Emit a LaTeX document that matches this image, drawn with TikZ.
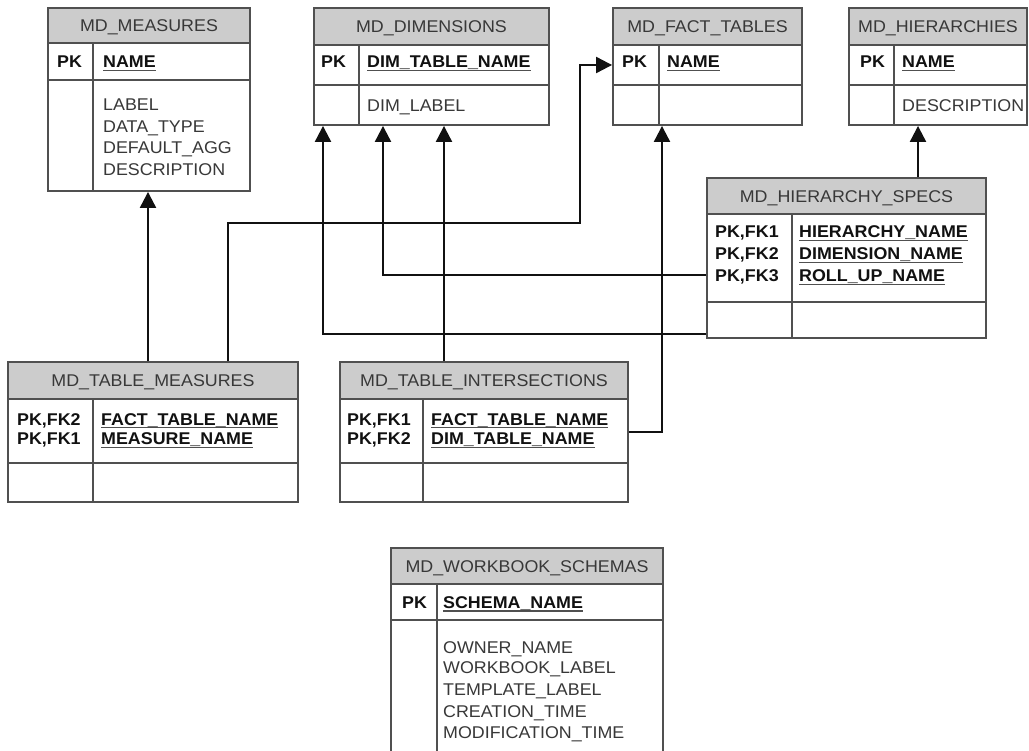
\documentclass[tikz,border=0pt]{standalone}
\usepackage{fontspec}
\setmainfont{Liberation Sans}[FakeStretch=1.05]
\usetikzlibrary{arrows.meta,fit}
\definecolor{hdrgray}{HTML}{CCCCCC}
\definecolor{lngray}{HTML}{505050}
\definecolor{txgray}{HTML}{383838}
\definecolor{tbblack}{HTML}{111111}
\newsavebox\ulbox
\newcommand\ulname[1]{\sbox\ulbox{#1}\rlap{\textcolor{lngray}{\rule[-3.5pt]{\wd\ulbox}{1.8pt}}}\usebox\ulbox}
\newcommand\erfont{\fontsize{17}{20}\selectfont}
\tikzset{
  tblbox/.style={draw=lngray, line width=1.9pt, inner sep=0pt},
  tblline/.style={draw=lngray, line width=1.9pt},
  hdrtxt/.style={anchor=base, inner sep=0pt, text=txgray, font=\erfont},
  keytxt/.style={anchor=base west, inner sep=0pt, text=tbblack, font=\erfont\bfseries},
  attrtxt/.style={anchor=base west, inner sep=0pt, text=txgray, font=\erfont},
  fk/.style={draw=tbblack, line width=2.2pt, -{Triangle[width=16pt,length=16pt]}}
}
% #1 name, #2 L, #3 T, #4 R, #5 header bottom, #6 key row bottom, #7 bottom, #8 divider, #9 title
\newcommand\ertab[9]{%
  \fill[hdrgray] (#2,#3) rectangle (#4,#5);
  \node[tblbox, fit={(#2,#3) (#4,#7)}] (#1) {};
  \draw[tblline] (#2,#5) -- (#4,#5) (#2,#6) -- (#4,#6) (#8,#5) -- (#8,#7);
  \node[hdrtxt] (#1-title) at ({(#2+#4)/2},{(#3+#5)/2+6.5}) {#9};
}
\begin{document}
\begin{tikzpicture}[x=1pt,y=-1pt]
\clip (0,0) rectangle (1029,751);
\fill[white] (0,0) rectangle (1029,751);

% MD_MEASURES
\ertab{mm}{48}{8}{250}{43}{80}{191}{93}{MD\_MEASURES}
\node[keytxt] (mm-pk) at (57,68) {PK};
\node[keytxt] (mm-k1) at (103,68) {\ulname{NAME}};
\node[attrtxt] (mm-a1) at (103,111) {LABEL};
\node[attrtxt] (mm-a2) at (103,133) {DATA\_TYPE};
\node[attrtxt] (mm-a3) at (103,154) {DEFAULT\_AGG};
\node[attrtxt] (mm-a4) at (103,176) {DESCRIPTION};

% MD_DIMENSIONS
\ertab{dm}{314}{8}{549}{45}{85}{125}{359}{MD\_DIMENSIONS}
\node[keytxt] (dm-pk) at (321,68) {PK};
\node[keytxt] (dm-k1) at (367,68) {\ulname{DIM\_TABLE\_NAME}};
\node[attrtxt] (dm-a1) at (367,112) {DIM\_LABEL};

% MD_FACT_TABLES
\ertab{ft}{613}{8}{802}{45}{85}{125}{659}{MD\_FACT\_TABLES}
\node[keytxt] (ft-pk) at (622,68) {PK};
\node[keytxt] (ft-k1) at (667,68) {\ulname{NAME}};

% MD_HIERARCHIES
\ertab{hi}{849}{8}{1027}{45}{85}{125}{894}{MD\_HIERARCHIES}
\node[keytxt] (hi-pk) at (860,68) {PK};
\node[keytxt] (hi-k1) at (902,68) {\ulname{NAME}};
\node[attrtxt] (hi-a1) at (902,112) {DESCRIPTION};

% MD_HIERARCHY_SPECS
\ertab{hs}{707}{178}{986}{214}{302}{338}{792}{MD\_HIERARCHY\_SPECS}
\node[keytxt] (hs-p1) at (715,238) {PK,FK1};
\node[keytxt] (hs-p2) at (715,260) {PK,FK2};
\node[keytxt] (hs-p3) at (715,282) {PK,FK3};
\node[keytxt] (hs-k1) at (799,238) {\ulname{HIERARCHY\_NAME}};
\node[keytxt] (hs-k2) at (799,260) {\ulname{DIMENSION\_NAME}};
\node[keytxt] (hs-k3) at (799,282) {\ulname{ROLL\_UP\_NAME}};

% MD_TABLE_MEASURES
\ertab{tm}{8}{362}{298}{399}{463}{502}{93}{MD\_TABLE\_MEASURES}
\node[keytxt] (tm-p1) at (17,425) {PK,FK2};
\node[keytxt] (tm-p2) at (17,445) {PK,FK1};
\node[keytxt] (tm-k1) at (101,425) {\ulname{FACT\_TABLE\_NAME}};
\node[keytxt] (tm-k2) at (101,445) {\ulname{MEASURE\_NAME}};

% MD_TABLE_INTERSECTIONS
\ertab{ti}{340}{362}{628}{399}{463}{502}{423}{MD\_TABLE\_INTERSECTIONS}
\node[keytxt] (ti-p1) at (347,425) {PK,FK1};
\node[keytxt] (ti-p2) at (347,445) {PK,FK2};
\node[keytxt] (ti-k1) at (431,425) {\ulname{FACT\_TABLE\_NAME}};
\node[keytxt] (ti-k2) at (431,445) {\ulname{DIM\_TABLE\_NAME}};

% MD_WORKBOOK_SCHEMAS
\ertab{wb}{391}{548}{663}{584}{620}{762}{437}{MD\_WORKBOOK\_SCHEMAS}
\node[keytxt] (wb-pk) at (402,608) {PK};
\node[keytxt] (wb-k1) at (443,608) {\ulname{SCHEMA\_NAME}};
\node[attrtxt] (wb-a1) at (443,653) {OWNER\_NAME};
\node[attrtxt] (wb-a2) at (443,673) {WORKBOOK\_LABEL};
\node[attrtxt] (wb-a3) at (443,695) {TEMPLATE\_LABEL};
\node[attrtxt] (wb-a4) at (443,717) {CREATION\_TIME};
\node[attrtxt] (wb-a5) at (443,738) {MODIFICATION\_TIME};

% routing coordinates
\coordinate (cmeas) at (148,0);
\coordinate (cfact) at (228,0);
\coordinate (cturn) at (580,0);
\coordinate (cd1) at (323,0);
\coordinate (cd2) at (383,0);
\coordinate (cd3) at (444,0);
\coordinate (cft) at (662,0);
\coordinate (chi) at (918,0);
\coordinate (y65) at (0,65);
\coordinate (y223) at (0,223);
\coordinate (y275) at (0,275);
\coordinate (y334) at (0,334);
\coordinate (y432) at (0,432);

% connectors
\draw[fk] (tm.north -| cmeas) -- (mm.south -| cmeas);
\draw[fk] (tm.north -| cfact) -- (cfact |- y223) -- (cturn |- y223) -- (cturn |- y65) -- (ft.west |- y65);
\draw[fk] (hs.west |- y334) -- (cd1 |- y334) -- (dm.south -| cd1);
\draw[fk] (hs.west |- y275) -- (cd2 |- y275) -- (dm.south -| cd2);
\draw[fk] (ti.north -| cd3) -- (dm.south -| cd3);
\draw[fk] (ti.east |- y432) -- (cft |- y432) -- (ft.south -| cft);
\draw[fk] (hs.north -| chi) -- (hi.south -| chi);
\end{tikzpicture}
\end{document}
